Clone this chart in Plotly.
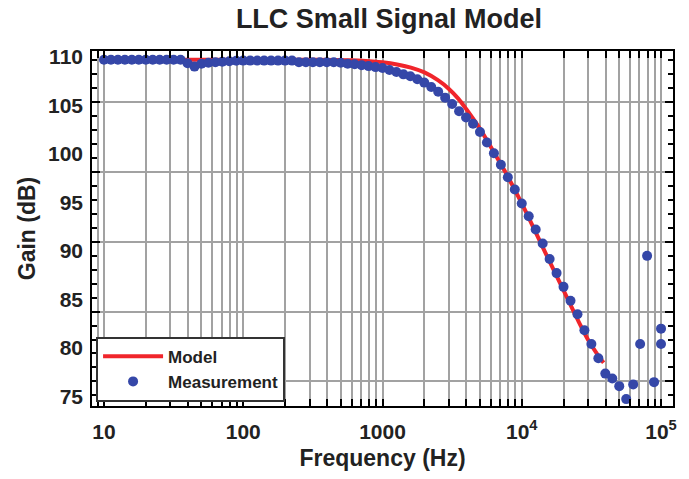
import plotly.graph_objects as go

# ---------------- data ----------------
meas_freq = [10, 11.22, 12.59, 14.13, 15.85, 17.78, 19.95, 22.39, 25.12, 28.18,
             31.62, 35.48, 39.81, 44.67, 50.12, 56.23, 63.10, 70.79, 79.43, 89.13,
             100, 112.2, 125.9, 141.3, 158.5, 177.8, 199.5, 223.9, 251.2, 281.8,
             316.2, 354.8, 398.1, 446.7, 501.2, 562.3, 631.0, 707.9, 794.3, 891.3,
             1000, 1122, 1259, 1413, 1585, 1778, 1995, 2239, 2512, 2818,
             3162, 3548, 3981, 4467, 5012, 5623, 6310, 7079, 7943, 8913,
             10000, 11220, 12590, 14130, 15850, 17780, 19950, 22390, 25120, 28180,
             31620, 35480, 39810, 44670, 50120, 56230, 63100, 70790, 79430, 89130,
             100000, 100000]
meas_gain = [109.7, 109.7, 109.7, 109.7, 109.7, 109.7, 109.7, 109.7, 109.7, 109.7,
             109.7, 109.7, 109.35, 109.0, 109.3, 109.4, 109.45, 109.5, 109.55, 109.6,
             109.62, 109.62, 109.62, 109.62, 109.62, 109.62, 109.62, 109.62, 109.45, 109.45,
             109.45, 109.45, 109.45, 109.45, 109.4, 109.3, 109.25, 109.15, 109.05, 108.95,
             108.85, 108.65, 108.45, 108.2, 108.0, 107.7, 107.35, 106.9, 106.4, 105.8,
             105.15, 104.4, 103.75, 103.1, 102.26, 101.17, 100.06, 98.87, 97.59, 96.33,
             94.88, 93.56, 92.2, 90.75, 89.15, 87.7, 86.28, 84.84, 83.45, 81.8,
             80.38, 78.92, 77.33, 76.83, 76.04, 74.7, 76.22, 80.38, 89.48, 76.45,
             80.38, 81.97]

model_freq = [10, 100, 300, 600, 800, 1000, 1300, 1600, 2000, 2500, 3000, 3500,
              4000, 5000, 6000, 7500, 10000, 12500, 15000, 20000, 25000, 30000,
              35000, 38700]
model_gain = [109.7, 109.7, 109.7, 109.65, 109.55, 109.45, 109.2, 108.9, 108.4,
              107.6, 106.7, 105.7, 104.6, 102.6, 100.7, 98.3, 94.9, 92.0, 89.6,
              85.9, 83.0, 80.8, 79.3, 78.45]

x_tick_vals = [10, 100, 1000, 10000, 100000]
x_tick_text = ["10", "100", "1000", "10<sup>4</sup>", "10<sup>5</sup>"]
y_tick_vals = [75, 80, 85, 90, 95, 100, 105, 110]
y_tick_text = ["75", "80", "85", "90", "95", "100", "105", "110"]

# ---------------- figure ----------------
FONT = "Liberation Sans, Arial, Helvetica, sans-serif"
GRID = "#a2a2a2"
YRANGE = [73.99, 110.61]

fig = go.Figure()
fig.add_trace(go.Scatter(
    x=model_freq, y=model_gain, mode="lines", name="Model",
    line=dict(color="#f0252b", width=4, shape="spline")))
fig.add_trace(go.Scatter(
    x=meas_freq, y=meas_gain, mode="markers", name="Measurement",
    marker=dict(color="#3547a8", size=10, line=dict(width=0))))
# carrier for the label-only axis
fig.add_trace(go.Scatter(
    x=[100], y=[90], yaxis="y2", mode="markers", showlegend=False,
    hoverinfo="skip", marker=dict(opacity=0)))

fig.update_layout(
    width=689, height=479,
    margin=dict(l=92, r=14, t=51, b=67),
    paper_bgcolor="white", plot_bgcolor="white",
    font=dict(family=FONT, color="#222222"),
    title=dict(text="LLC Small Signal Model", x=0.511, xref="paper",
               xanchor="center", y=0.962, yref="container", yanchor="middle",
               font=dict(size=27, family=FONT, weight="bold", color="#222222")),
    showlegend=True,
    legend=dict(x=0.007, y=0.012, xanchor="left", yanchor="bottom",
                bgcolor="white", bordercolor="#333333", borderwidth=2,
                itemwidth=60, tracegroupgap=0,
                font=dict(size=17, family=FONT, weight="bold", color="#222222")),
    xaxis=dict(
        type="log", range=[0.914, 5.086],
        tickmode="array", tickvals=x_tick_vals, ticktext=x_tick_text,
        tickfont=dict(size=21, family=FONT, weight="bold", color="#222222"),
        ticks="inside", ticklen=7, tickwidth=1.5, tickcolor="black",
        showgrid=True, gridcolor=GRID, gridwidth=1.5,
        showline=True, linecolor="black", linewidth=2, mirror="allticks",
        minor=dict(tickmode="linear", dtick="D1", ticks="inside", ticklen=5,
                   tickwidth=1.5, tickcolor="black", showgrid=True,
                   gridcolor=GRID, gridwidth=1.5),
        ticklabelstandoff=6,
        title=dict(text="Frequency (Hz)", standoff=8,
                   font=dict(size=23, family=FONT, weight="bold", color="#222222")),
        zeroline=False),
    yaxis=dict(
        range=YRANGE, tickmode="linear", tick0=105.33, dtick=7.2,
        showticklabels=False,
        ticks="inside", ticklen=8, tickwidth=1.5, tickcolor="black",
        showgrid=True, gridcolor=GRID, gridwidth=1.5,
        showline=True, linecolor="black", linewidth=2, mirror="allticks",
        minor=dict(tickmode="linear", tick0=105.33, dtick=1.44, ticks="inside",
                   ticklen=5, tickwidth=1.5, tickcolor="black", showgrid=False),
        zeroline=False),
    yaxis2=dict(
        overlaying="y", side="left", range=YRANGE,
        tickmode="array", tickvals=y_tick_vals, ticktext=y_tick_text,
        tickfont=dict(size=21, family=FONT, weight="bold", color="#222222"),
        ticks="", showgrid=False, showline=False, zeroline=False,
        ticklabelstandoff=8,
        title=dict(text="Gain (dB)", standoff=5,
                   font=dict(size=23, family=FONT, weight="bold", color="#222222"))),
)

fig.write_html("out.html")
